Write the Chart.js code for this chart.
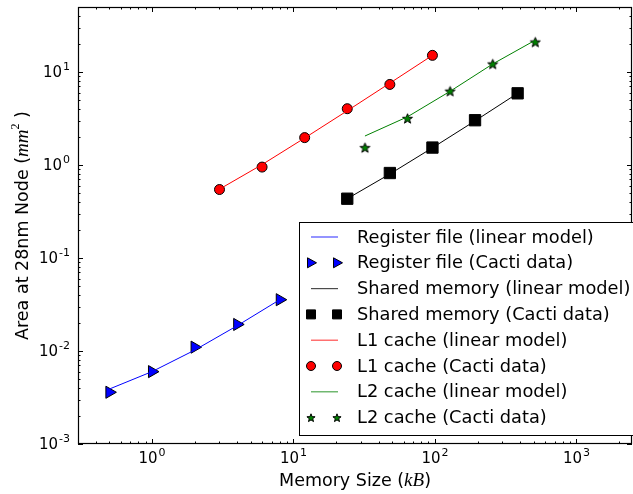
<!DOCTYPE html>
<html>
<head>
<meta charset="utf-8">
<script src="https://cdn.jsdelivr.net/npm/chart.js@4/dist/chart.umd.min.js"></script>
<style>
  html, body { margin: 0; padding: 0; background: #fff; }
</style>
</head>
<body>
<canvas id="areaChart" width="633" height="494"></canvas>
<script>
// Memory size (kB) and area (mm^2) per structure
const rfSize = [0.5, 1, 2, 4, 8];
const rfCacti = [0.0036, 0.0060, 0.011, 0.0193, 0.0356];
const rfModel = [0.0039, 0.0060, 0.0102, 0.0187, 0.0356];

const smSize = [24, 48, 96, 192, 384];
const smCacti = [0.434, 0.82, 1.54, 3.03, 5.9];
const smModel = [0.434, 0.80, 1.53, 2.98, 5.9];

const l1Size = [3, 6, 12, 24, 48, 96];
const l1Cacti = [0.545, 0.95, 1.97, 4.03, 7.35, 15.1];
const l1Model = [0.55, 1.01, 1.95, 3.83, 7.59, 15.1];

const l2Size = [32, 64, 128, 256, 512];
const l2Cacti = [1.54, 3.17, 6.22, 12.2, 21.0];
const l2Model = [2.05, 3.3, 6.2, 12.2, 22.0];

const legendLabels = [
    'Register file (linear model)',
    'Register file (Cacti data)',
    'Shared memory (linear model)',
    'Shared memory (Cacti data)',
    'L1 cache (linear model)',
    'L1 cache (Cacti data)',
    'L2 cache (linear model)',
    'L2 cache (Cacti data)'
];

// Axis ticks (decades) and their exponents
const xMajorTicks = [1, 10, 100, 1000];
const xTickExp = ['0', '1', '2', '3'];
const yMajorTicks = [0.001, 0.01, 0.1, 1, 10];
const yTickExp = ['-3', '-2', '-1', '0', '1'];

const xMin = 0.3, xMax = 2470;
const yMin = 0.001, yMax = 50;

const FONT = "'DejaVu Sans', sans-serif";
const MATH = "'Liberation Serif', 'DejaVu Serif', serif";

function pts(xs, ys) {
    return xs.map((x, i) => ({ x: x, y: ys[i] }));
}

// filled star marker, used on the plot and in the legend
function drawStar(ctx, cx, cy, R, fill) {
    const r = R * 0.42;
    ctx.beginPath();
    for (let i = 0; i < 10; i++) {
        const a = -Math.PI / 2 + i * Math.PI / 5;
        const rr = i % 2 === 0 ? R : r;
        const px = cx + Math.cos(a) * rr, py = cy + Math.sin(a) * rr;
        if (i === 0) ctx.moveTo(px, py); else ctx.lineTo(px, py);
    }
    ctx.closePath();
    ctx.fillStyle = fill;
    ctx.fill();
    ctx.strokeStyle = '#000';
    ctx.lineWidth = 1;
    ctx.stroke();
}

const starImg = document.createElement('canvas');
starImg.width = 13;
starImg.height = 13;
drawStar(starImg.getContext('2d'), 6.5, 7, 5.2, '#008000');

function lineSet(label, xs, ys, color) {
    return {
        label: label,
        data: pts(xs, ys),
        showLine: true,
        borderColor: color,
        borderWidth: 1,
        pointRadius: 0,
        fill: false
    };
}

function markSet(label, xs, ys, style, radius, fill, rotation) {
    return {
        label: label,
        data: pts(xs, ys),
        showLine: false,
        pointStyle: style,
        pointRadius: radius,
        pointRotation: rotation || 0,
        pointBackgroundColor: fill,
        pointBorderColor: '#000',
        pointBorderWidth: 1
    };
}

// draws "10" with a superscript exponent, anchored by align
function drawPow(ctx, exp, x, y, align) {
    ctx.font = '15px ' + FONT;
    const wb = ctx.measureText('10').width;
    ctx.font = '11px ' + FONT;
    const we = ctx.measureText(exp).width;
    const total = wb + we + 1;
    let x0 = x;
    if (align === 'center') x0 = x - total / 2;
    if (align === 'right') x0 = x - total;
    ctx.textBaseline = 'middle';
    ctx.textAlign = 'left';
    ctx.fillStyle = '#000';
    ctx.font = '15px ' + FONT;
    ctx.fillText('10', x0, y);
    ctx.font = '11px ' + FONT;
    ctx.fillText(exp, x0 + wb + 1, y - 6);
}

// draws a list of [text, font] pieces one after the other
function drawRuns(ctx, runs, x, y) {
    let w = 0;
    runs.forEach(r => { ctx.font = r[1]; w += ctx.measureText(r[0]).width; });
    let cx = x - w / 2;
    ctx.textAlign = 'left';
    ctx.textBaseline = 'middle';
    ctx.fillStyle = '#000';
    runs.forEach(r => {
        ctx.font = r[1];
        ctx.fillText(r[0], cx, y + (r[2] || 0));
        cx += ctx.measureText(r[0]).width;
    });
}

const framePlugin = {
    id: 'frame',
    afterDraw(chart) {
        const ctx = chart.ctx;
        const a = chart.chartArea;
        const xs = chart.scales.x, ys = chart.scales.y;
        ctx.save();

        // ticks pointing inward on all four sides
        ctx.strokeStyle = '#000';
        ctx.lineWidth = 1;
        ctx.beginPath();
        for (let d = -1; d <= 3; d++) {
            for (let m = 1; m <= 9; m++) {
                const v = m * Math.pow(10, d);
                if (v < xMin || v > xMax) continue;
                const px = Math.round(xs.getPixelForValue(v)) + 0.5;
                const len = m === 1 ? 5 : 2.5;
                ctx.moveTo(px, a.bottom); ctx.lineTo(px, a.bottom - len);
                ctx.moveTo(px, a.top); ctx.lineTo(px, a.top + len);
            }
        }
        for (let d = -3; d <= 1; d++) {
            for (let m = 1; m <= 9; m++) {
                const v = m * Math.pow(10, d);
                if (v < yMin || v > yMax) continue;
                const py = Math.round(ys.getPixelForValue(v)) + 0.5;
                const len = m === 1 ? 5 : 2.5;
                ctx.moveTo(a.left, py); ctx.lineTo(a.left + len, py);
                ctx.moveTo(a.right, py); ctx.lineTo(a.right - len, py);
            }
        }
        ctx.stroke();

        ctx.lineWidth = 1.2;
        ctx.strokeRect(a.left + 0.5, a.top + 0.5, a.right - a.left - 1, a.bottom - a.top - 1);

        // tick labels
        xMajorTicks.forEach((v, i) => drawPow(ctx, xTickExp[i], xs.getPixelForValue(v), a.bottom + 15, 'center'));
        yMajorTicks.forEach((v, i) => drawPow(ctx, yTickExp[i], a.left - 8, ys.getPixelForValue(v) + 1, 'right'));

        // axis titles
        drawRuns(ctx, [
            ['Memory Size (', '17.5px ' + FONT],
            ['kB', 'italic 19px ' + MATH],
            [')', '17.5px ' + FONT]
        ], (a.left + a.right) / 2, 481);

        ctx.save();
        ctx.translate(23, (a.top + a.bottom) / 2);
        ctx.rotate(-Math.PI / 2);
        drawRuns(ctx, [
            ['Area at 28nm Node (', '17.5px ' + FONT],
            ['mm', 'italic 19px ' + MATH],
            ['2', '12px ' + MATH, -7],
            [' )', '17.5px ' + FONT]
        ], 0, 0);
        ctx.restore();

        // legend
        const lx = 299.5, ly = 222.5;
        ctx.fillStyle = '#fff';
        ctx.fillRect(lx, ly, 340, 213);
        ctx.strokeStyle = '#000';
        ctx.lineWidth = 1;
        ctx.strokeRect(lx, ly, 340, 213);

        const colors = ['#0000ff', '#0000ff', '#000000', '#000000', '#ff0000', '#ff0000', '#008000', '#008000'];
        legendLabels.forEach((label, i) => {
            const cy = 237 + i * 25.8;
            const c = colors[i];
            if (i % 2 === 0) {
                ctx.strokeStyle = c;
                ctx.globalAlpha = 0.7;
                ctx.lineWidth = 1.2;
                ctx.beginPath();
                ctx.moveTo(311, cy); ctx.lineTo(338, cy);
                ctx.stroke();
                ctx.globalAlpha = 1;
            } else {
                [311, 337].forEach(mx => {
                    ctx.fillStyle = c;
                    ctx.strokeStyle = '#000';
                    ctx.lineWidth = 1;
                    ctx.beginPath();
                    if (i === 1) {
                        ctx.moveTo(mx + 5.5, cy); ctx.lineTo(mx - 3.5, cy - 5); ctx.lineTo(mx - 3.5, cy + 5);
                        ctx.closePath(); ctx.fill(); ctx.stroke();
                    } else if (i === 3) {
                        ctx.rect(mx - 4.5, cy - 4.5, 9, 9); ctx.fill(); ctx.stroke();
                    } else if (i === 5) {
                        ctx.arc(mx, cy, 4.5, 0, Math.PI * 2); ctx.fill(); ctx.stroke();
                    } else {
                        drawStar(ctx, mx, cy + 0.5, 4.3, c);
                    }
                });
            }
            ctx.fillStyle = '#000';
            ctx.font = '17.8px ' + FONT;
            ctx.textAlign = 'left';
            ctx.textBaseline = 'middle';
            ctx.fillText(label, 357, cy + 1);
        });
        ctx.restore();
    }
};

const ctx = document.getElementById('areaChart').getContext('2d');
new Chart(ctx, {
    type: 'scatter',
    data: {
        datasets: [
            lineSet(legendLabels[0], rfSize, rfModel, '#0000ff'),
            markSet(legendLabels[1], rfSize, rfCacti, 'triangle', 7, '#0000ff', 90),
            lineSet(legendLabels[2], smSize, smModel, '#000000'),
            markSet(legendLabels[3], smSize, smCacti, 'rect', 8, '#000000'),
            lineSet(legendLabels[4], l1Size, l1Model, '#ff0000'),
            markSet(legendLabels[5], l1Size, l1Cacti, 'circle', 5, '#ff0000'),
            lineSet(legendLabels[6], l2Size, l2Model, '#008000'),
            markSet(legendLabels[7], l2Size, l2Cacti, starImg, 7, '#008000')
        ]
    },
    options: {
        responsive: false,
        animation: false,
        layout: { autoPadding: false, padding: { left: 0, top: 7, right: 1, bottom: 0 } },
        plugins: {
            legend: { display: false },
            tooltip: { enabled: false }
        },
        scales: {
            x: {
                type: 'logarithmic',
                min: xMin,
                max: xMax,
                grid: { display: false },
                border: { display: false },
                ticks: { display: false },
                afterFit(scale) { scale.height = 50; }
            },
            y: {
                type: 'logarithmic',
                min: yMin,
                max: yMax,
                grid: { display: false },
                border: { display: false },
                ticks: { display: false },
                afterFit(scale) { scale.width = 78; }
            }
        }
    },
    plugins: [framePlugin]
});
</script>
</body>
</html>
